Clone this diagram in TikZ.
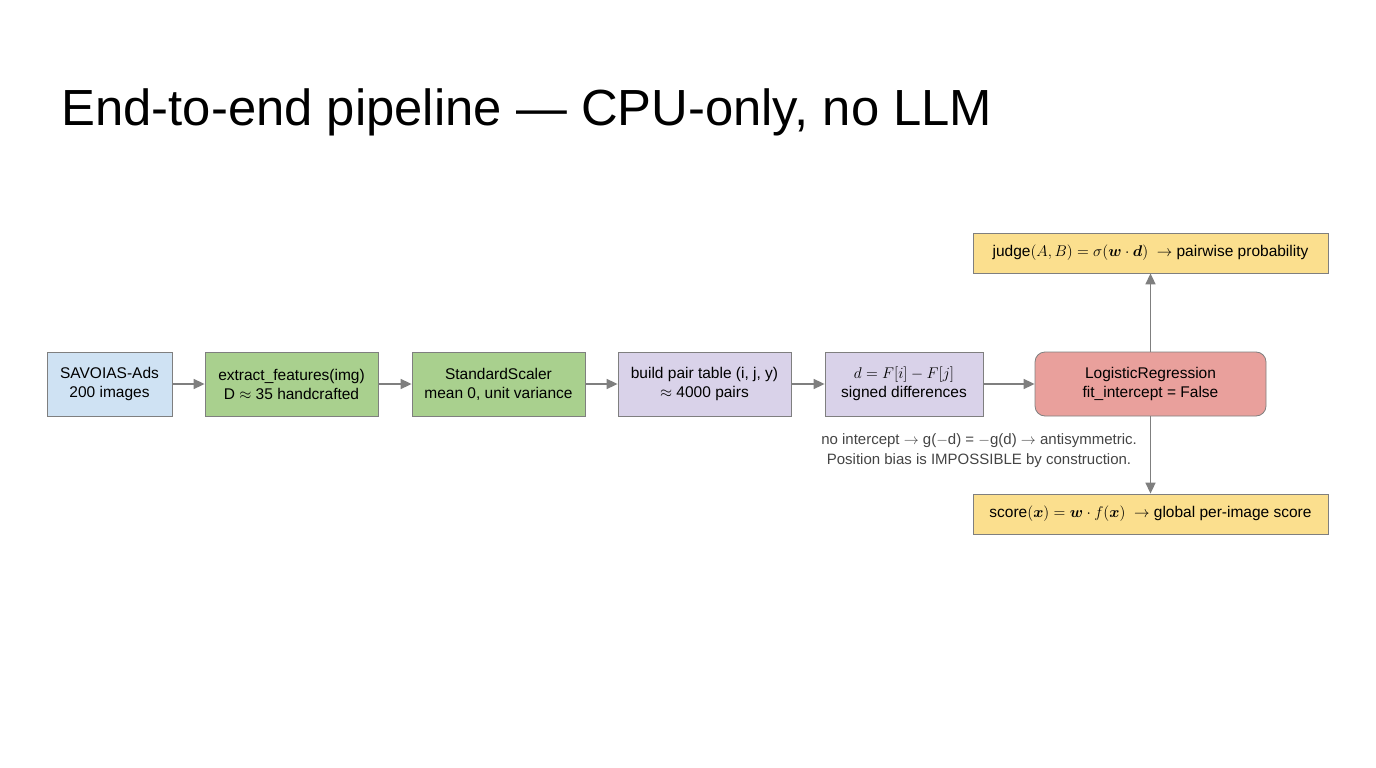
\RequirePackage{fix-cm}
\documentclass[tikz,border=0pt]{standalone}
\usepackage{amsmath}
\usepackage{bm}
\usepackage{fontspec}
\setmainfont{Liberation Sans}
\usetikzlibrary{positioning,arrows.meta}

\definecolor{edgegray}{HTML}{7F7F7F}
\definecolor{inblue}{HTML}{CFE2F3}
\definecolor{featgreen}{HTML}{A9D08E}
\definecolor{pairlav}{HTML}{D9D2E9}
\definecolor{modelred}{HTML}{E9A09C}
\definecolor{outyellow}{HTML}{FBDF8E}
\definecolor{notegray}{HTML}{444444}

\begin{document}
\begin{tikzpicture}[x=1pt,y=-1pt,
    >={Triangle[length=11pt,width=10pt]},
    box/.style={draw=edgegray,line width=0.8pt,minimum height=64pt,align=center,
                font=\fontsize{15.5}{19}\selectfont,inner sep=2pt},
    outbox/.style={box,fill=outyellow,minimum height=40pt,minimum width=355pt},
    flow/.style={->,draw=edgegray,line width=1.6pt,fill=edgegray}]
    \useasboundingbox (0,0) rectangle (1376,768);
    \node[anchor=base west,font=\fontsize{50.8}{60}\selectfont] (title) at (58,125)
        {End-to-end pipeline --- CPU-only, no LLM};
    \path
    % data and features
    +(109.5,384) node[box,fill=inblue,minimum width=125pt] (data) {SAVOIAS-Ads\\200 images}
    +(291.5,384) node[box,fill=featgreen,minimum width=173pt] (feat) {extract\_features(img)\\D $\approx$ 35 handcrafted}
    +(498.5,384) node[box,fill=featgreen,minimum width=173pt] (scaler) {StandardScaler\\mean 0, unit variance}
    % pairs
    +(704.5,384) node[box,fill=pairlav,minimum width=173pt] (pairs) {build pair table (i, j, y)\\$\approx$ 4000 pairs}
    +(904,384) node[box,fill=pairlav,minimum width=158pt] (diff) {$d = F[i] - F[j]$\\signed differences}
    % model
    +(1150.5,384) node[box,fill=modelred,minimum width=231pt,rounded corners=10pt] (logreg) {LogisticRegression\\fit\_intercept = False}
    % outputs
    +(1150.5,253) node[outbox] (judge) {judge$(A,B) = \sigma(\bm{w}\cdot\bm{d})$ \ $\rightarrow$ pairwise probability}
    +(1150.5,514) node[outbox] (score) {score$(\bm{x}) = \bm{w}\cdot f(\bm{x})$ \ $\rightarrow$ global per-image score}
    +(979,451) node[align=center,text=notegray,font=\fontsize{15}{20}\selectfont] (note)
        {no intercept $\rightarrow$ g($-$d) = $-$g(d) $\rightarrow$ antisymmetric.\\Position bias is IMPOSSIBLE by construction.};

    \draw[flow] (data)--(feat);
    \draw[flow] (feat)--(scaler);
    \draw[flow] (scaler)--(pairs);
    \draw[flow] (pairs)--(diff);
    \draw[flow] (diff)--(logreg);
    \draw[flow] (logreg)--(judge);
    \draw[flow] (logreg)--(score);
\end{tikzpicture}
\end{document}
